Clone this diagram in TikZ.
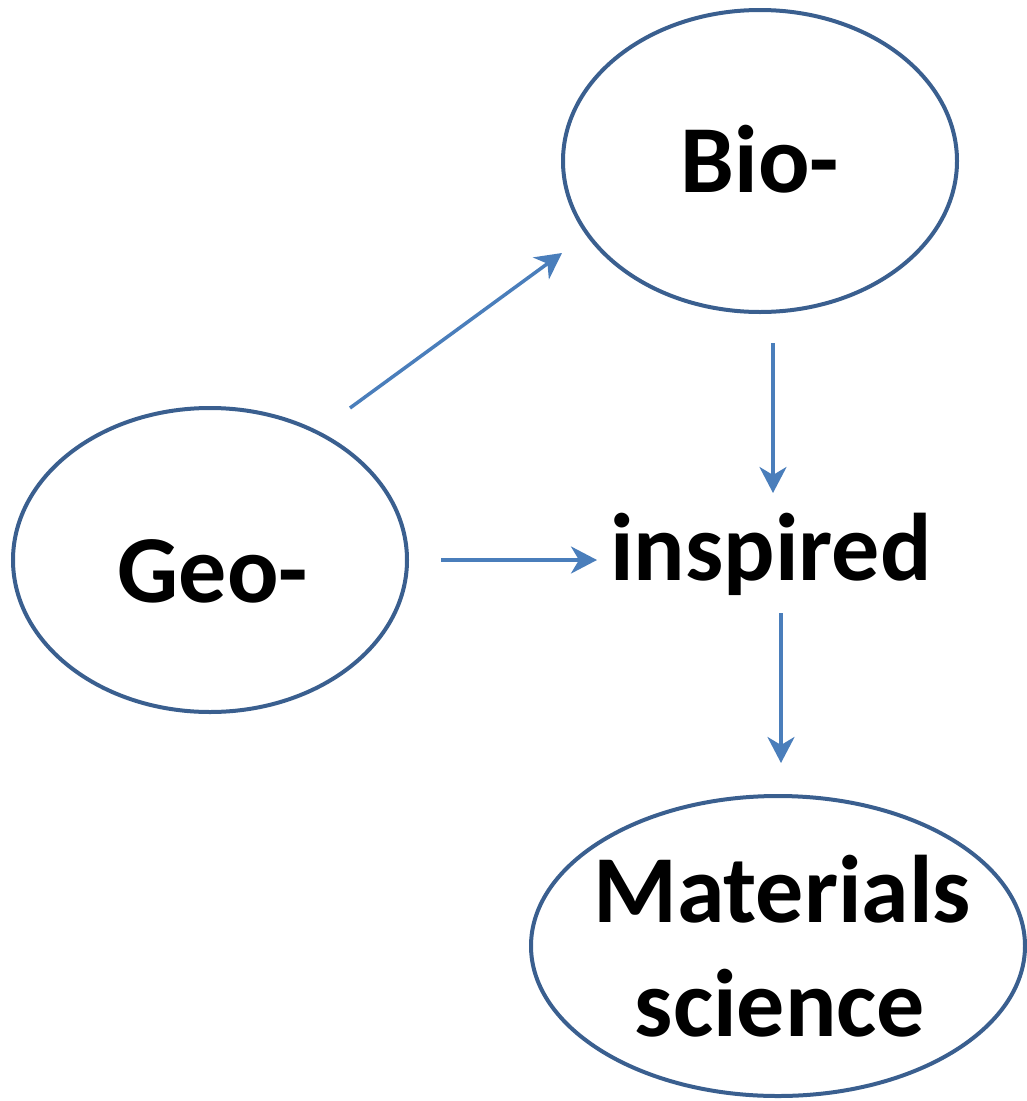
\documentclass[tikz,border=0pt]{standalone}
\usepackage{fontspec}
\setmainfont{Carlito}
\usetikzlibrary{arrows.meta,shapes.geometric}
\definecolor{edgeblue}{HTML}{3A5F8F}
\definecolor{arrblue}{HTML}{4A7EBB}
\tikzset{
  ell/.style={draw=edgeblue,line width=4pt,ellipse,inner sep=0pt},
  lbl/.style={font=\fontsize{96}{110}\selectfont\bfseries,inner sep=0pt,anchor=base},
  conn/.style={draw=arrblue,line width=3.5pt,-{Stealth[length=26pt,width=27pt,inset=8pt]}}
}
\begin{document}
\begin{tikzpicture}[x=1pt,y=-1pt]
\useasboundingbox (0,0) rectangle (1026,1101);
\node[ell,minimum width=394pt,minimum height=302pt] (bio) at (760,161) {};
\node[ell,minimum width=394pt,minimum height=304pt] (geo) at (210,560) {};
\node[ell,minimum width=494pt,minimum height=300pt] (mat) at (778,946) {};
\node[lbl] (biot) at (760,192) {Bio-};
\node[lbl] (geot) at (213,602) {Geo-};
\node[lbl] (insp) at (771,580) {inspired};
\node[lbl] (matt) at (782,922) {Materials};
\node[lbl] (scit) at (780,1036) {science};
\coordinate (a1s) at (350,408);
\coordinate (a1e) at (562,253);
\coordinate (a2s) at (773,343);
\coordinate (a2e) at (773,493);
\coordinate (a3s) at (441,560);
\coordinate (a3e) at (597,560);
\coordinate (a4s) at (781,613);
\coordinate (a4e) at (781,763);
\draw[conn] (a1s) -- (a1e);
\draw[conn] (a2s) -- (a2e);
\draw[conn] (a3s) -- (a3e);
\draw[conn] (a4s) -- (a4e);
\end{tikzpicture}
\end{document}
